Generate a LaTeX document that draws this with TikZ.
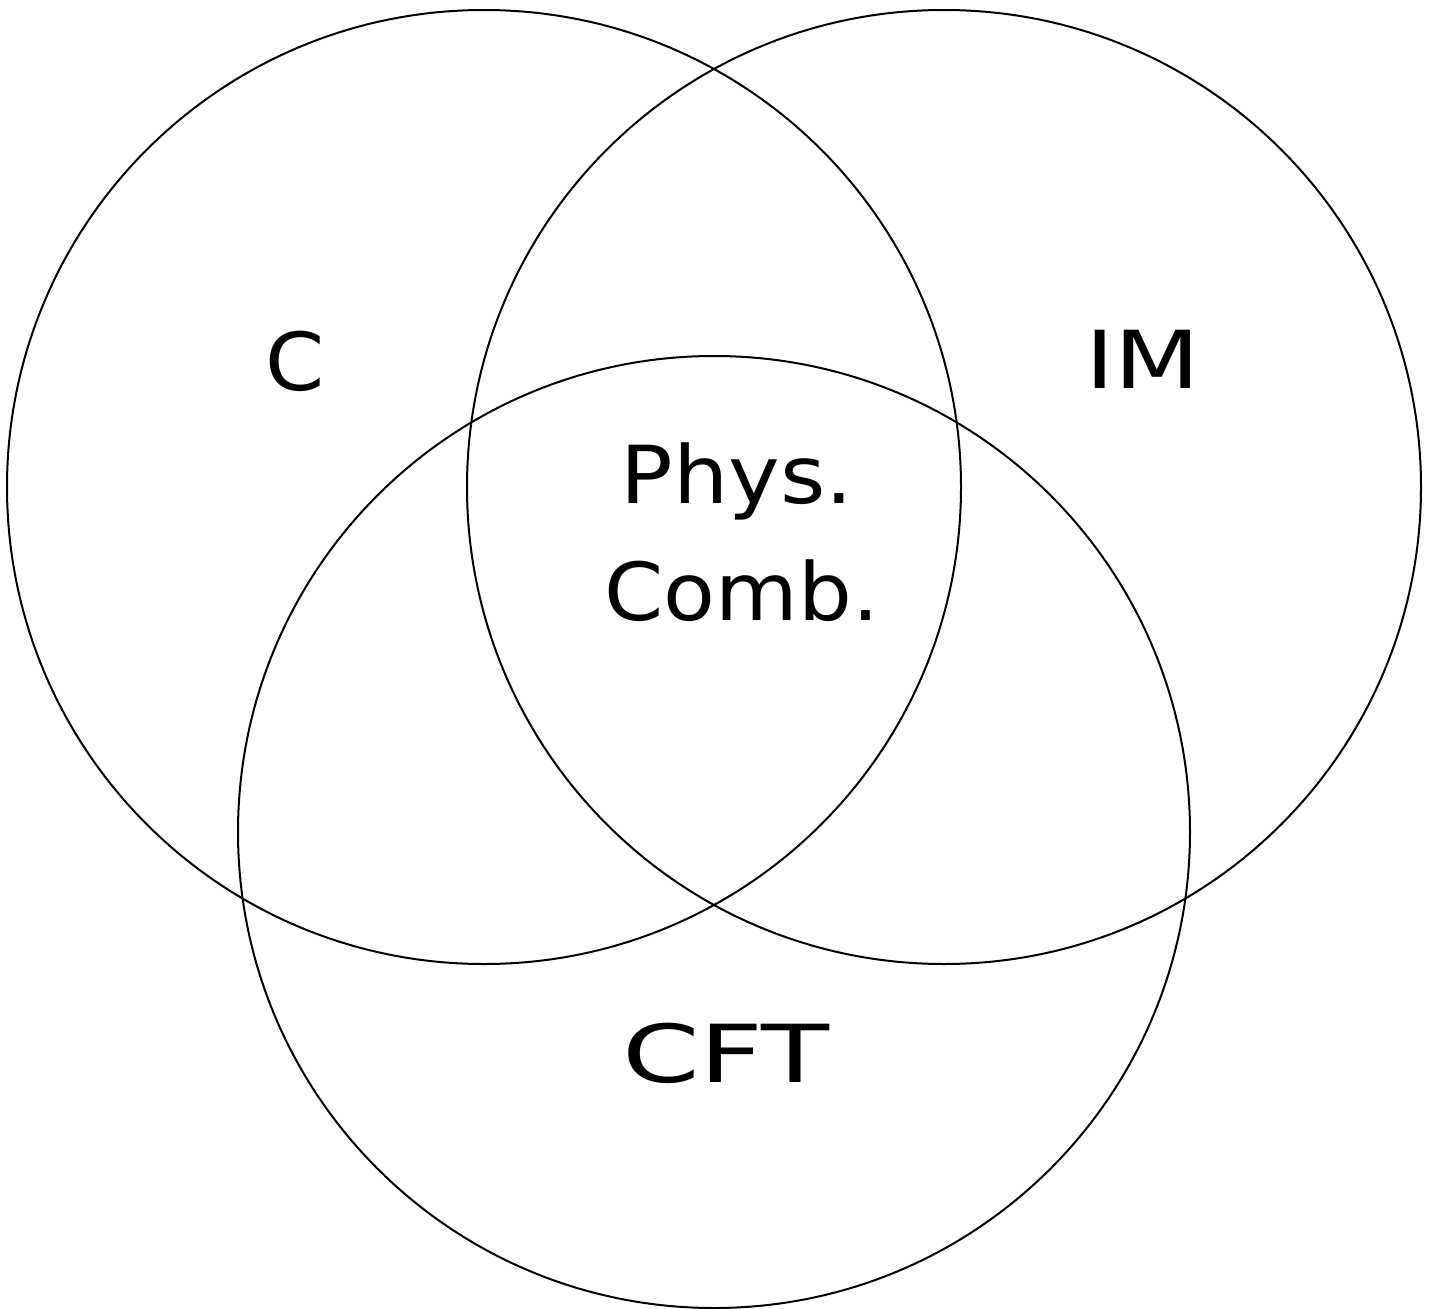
\documentclass[tikz,border=0pt]{standalone}
\usepackage{fontspec}
\setmainfont{DejaVu Sans}
\begin{document}
\begin{tikzpicture}[x=1pt,y=-1pt,
  setc/.style={draw=black,line width=2pt},
  lbl/.style={font=\fontsize{80}{115}\selectfont,inner sep=0pt,anchor=base}]
\useasboundingbox (0,0) rectangle (1436,1309);
\draw[setc] (484,487) circle[radius=477];
\draw[setc] (944,487) circle[radius=477];
\draw[setc] (714,832) circle[radius=476];
\node[lbl] (c) at (295,390) {\scalebox{1.06}[1]{C}};
\node[lbl] (im) at (1143,388) {\scalebox{1.24}[1]{IM}};
\node[lbl] (phys) at (737,503) {\scalebox{1.09}[1]{Phys.}};
\node[lbl] (comb) at (742,620) {\scalebox{1.06}[1]{Comb.}};
\node[lbl] (cft) at (726,1082) {\scalebox{1.39}[1]{CFT}};
\end{tikzpicture}
\end{document}
